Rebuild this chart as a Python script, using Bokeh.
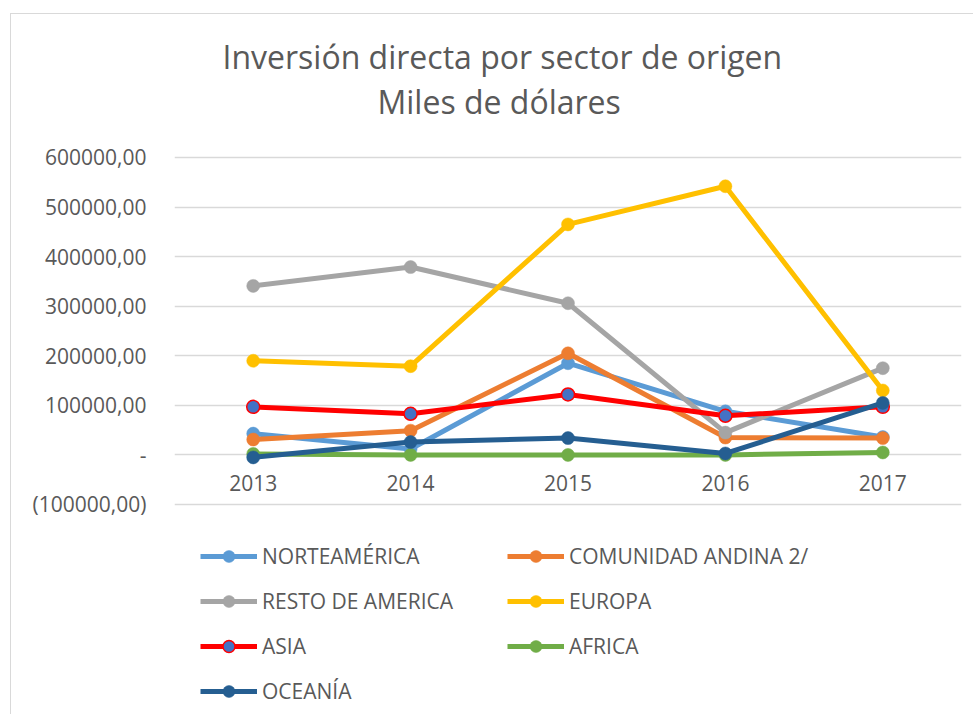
from bokeh.plotting import figure
from bokeh.models import (Range1d, FactorRange, FixedTicker, CustomJSTickFormatter,
                          Legend, LegendItem, Title)
from bokeh.embed import file_html
from bokeh.resources import INLINE

years = ["2013", "2014", "2015", "2016", "2017"]
y_ticks = [-100000, 0, 100000, 200000, 300000, 400000, 500000, 600000]

series_names = ["NORTEAMÉRICA", "COMUNIDAD ANDINA 2/", "RESTO DE AMERICA",
                "EUROPA", "ASIA", "AFRICA", "OCEANÍA"]
norteamerica = [43000, 12000, 185000, 88000, 36000]
comunidad_andina = [31000, 49000, 205000, 35000, 34000]
resto_america = [341000, 379000, 306000, 45000, 175000]
europa = [190000, 179000, 465000, 542000, 130000]
asia = [97000, 83000, 122000, 79000, 97000]
africa = [2000, 0, 0, 0, 5000]
oceania = [-5000, 26000, 34000, 3000, 105000]

values = [norteamerica, comunidad_andina, resto_america, europa, asia, africa, oceania]
line_colors = ["#5B9BD5", "#ED7D31", "#A5A5A5", "#FFC000", "#FF0000", "#70AD47", "#255E91"]
fill_colors = ["#5B9BD5", "#ED7D31", "#A5A5A5", "#FFC000", "#4472C4", "#70AD47", "#255E91"]

TXT = "#595959"
FONT = "Open Sans"

# the plot area reaches down to the bottom of the page so that the legend
# (drawn inside it, below the axis range) is not clipped
p = figure(frame_width=787, frame_height=592, output_backend="svg", toolbar_location=None,
           x_range=FactorRange(*years), y_range=Range1d(-523636, 670605),
           min_border_left=163, min_border_right=12, min_border_top=108,
           min_border_bottom=0)
p.styles = {"border-left": "1px solid #d9d9d9", "border-top": "1px solid #d9d9d9",
            "margin-left": "10px", "margin-top": "13px"}
p.outline_line_color = None
p.background_fill_color = "white"

# outer (first) title line
p.title.text = "Inversión directa por sector de origen"
p.title.align = "left"
p.title.offset = 48
p.title.text_font = FONT
p.title.text_font_size = "32px"
p.title.text_font_style = "normal"
p.title.text_color = TXT
p.title.standoff = 0
# inner (second) title line, next to the plot area
t2 = Title(text="Miles de dólares", align="left", offset=203,
           text_font=FONT, text_font_size="32px", text_font_style="normal",
           text_color=TXT, standoff=0)
p.add_layout(t2, "above")

# y axis
p.yaxis.ticker = FixedTicker(ticks=y_ticks)
p.yaxis.formatter = CustomJSTickFormatter(code="""
if (tick == 0) return '-';
if (tick < 0) return '(' + Math.abs(tick) + ',00)';
return tick + ',00';
""")
p.yaxis.axis_line_color = None
p.yaxis.major_tick_line_color = None
p.yaxis.minor_tick_line_color = None
p.yaxis.major_tick_out = 0
p.yaxis.major_label_standoff = 28
p.yaxis.major_label_text_font = FONT
p.yaxis.major_label_text_font_size = "21px"
p.yaxis.major_label_text_color = TXT

# x axis, crossing at zero
p.xaxis.fixed_location = 0
p.xaxis.axis_line_color = None
p.xaxis.major_tick_line_color = None
p.xaxis.minor_tick_line_color = None
p.xaxis.major_tick_out = 0
p.xaxis.major_tick_in = 0
p.xaxis.major_label_standoff = 20
p.xaxis.major_label_text_font = FONT
p.xaxis.major_label_text_font_size = "21px"
p.xaxis.major_label_text_color = TXT

p.xgrid.grid_line_color = None
p.ygrid.grid_line_color = "#D9D9D9"
p.ygrid.grid_line_width = 1.5

items = []
for name, vals, lc, fc in zip(series_names, values, line_colors, fill_colors):
    r1 = p.line(years, vals, line_color=lc, line_width=5)
    r2 = p.scatter(years, vals, size=13, fill_color=fc, line_color=lc,
                   line_width=1.5 if lc != fc else 0.5)
    items.append(LegendItem(label=name, renderers=[r1, r2]))

common = dict(orientation="vertical", glyph_width=57, glyph_height=30,
              spacing=15, label_standoff=5, padding=0, margin=0,
              label_text_font=FONT, label_text_font_size="21px",
              label_text_color=TXT, border_line_color=None,
              background_fill_alpha=0)
leg1 = Legend(items=items[0::2], location=(26, 8), **common)
leg2 = Legend(items=items[1::2], location=(333, 53), **common)
p.add_layout(leg1, "center")
p.add_layout(leg2, "center")

open("out.html", "w").write(file_html(p, INLINE))
